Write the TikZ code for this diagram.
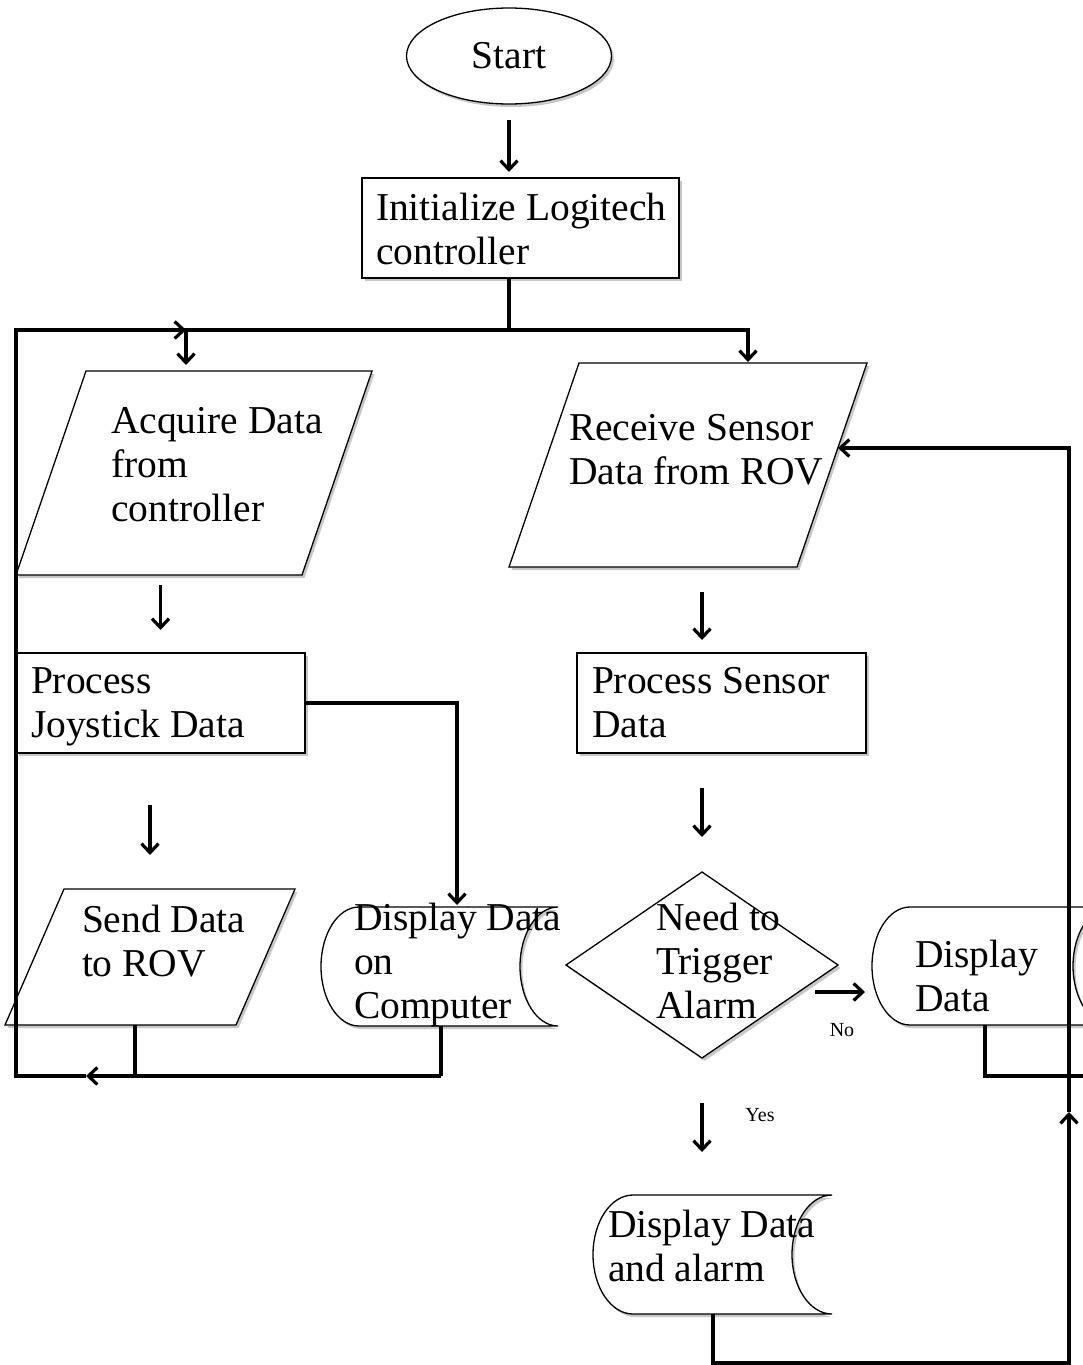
\documentclass[tikz,border=0pt]{standalone}
\usepackage{fontspec}
\setmainfont{Liberation Serif}
\usetikzlibrary{shapes.geometric, arrows.meta, calc, shadows, backgrounds}
\newcommand\placetext[3]{\makebox[0pt][l]{\hspace*{#1}\raisebox{#2}[0pt][0pt]{\begin{tabular}[t]{@{}l@{}}#3\end{tabular}}}}
\begin{document}
\begin{tikzpicture}[x=1pt, y=-1pt,
  bigfont/.style={font=\fontsize{39.5}{44}\selectfont},
  shadowed/.style={drop shadow={shadow xshift=2.5pt, shadow yshift=-3pt, opacity=0.22, fill=black}},
  shapebox/.style={draw=black, line width=1.3pt, fill=white, inner sep=0pt, outer sep=0pt, bigfont, shadowed},
  procbox/.style={shapebox, rectangle},
  plainbox/.style={rectangle, inner sep=0pt, outer sep=0pt, bigfont},
  outline/.style={draw=black, line width=1.3pt, fill=white, shadowed},
  conn/.style={line width=3.5pt},
  arr/.style={conn, -{Straight Barb[length=9pt,width=17pt,line width=3.2pt]}},
  lbl/.style={font=\fontsize{20}{24}\selectfont, inner sep=0pt}
]
\useasboundingbox (0,0) rectangle (1082,1365);

% ---------- shapes ----------
\node[shapebox, ellipse, minimum width=205pt, minimum height=96pt] (start) at (509,56) {Start};
\node[procbox, minimum width=317pt, minimum height=100pt] (init) at (520.5,228)
  {\placetext{-144.5pt}{8pt}{Initialize Logitech\\controller}};
\node[plainbox, minimum width=356pt, minimum height=204pt] (acq) at (194,473)
  {\placetext{-83pt}{40pt}{Acquire Data\\from\\controller}};
\node[plainbox, minimum width=358pt, minimum height=204pt] (recv) at (688,465)
  {\placetext{-119pt}{25pt}{Receive Sensor\\Data from ROV}};
\node[procbox, minimum width=289pt, minimum height=100pt] (pj) at (160.5,703)
  {\placetext{-129.5pt}{10pt}{Process\\Joystick Data}};
\node[procbox, minimum width=289pt, minimum height=100pt] (ps) at (721.5,703)
  {\placetext{-129.5pt}{10pt}{Process Sensor\\Data}};
\node[plainbox, minimum width=290pt, minimum height=136pt] (send) at (150,957)
  {\placetext{-68pt}{25pt}{Send Data\\to ROV}};
\node[plainbox, minimum width=237pt, minimum height=119pt] (comp) at (439.5,966.5)
  {\placetext{-85.5pt}{36.5pt}{Display Data\\on\\Computer}};
\node[shapebox, diamond, minimum width=272pt, minimum height=186pt] (dec) at (702,965)
  {\placetext{-46pt}{35pt}{Need to\\Trigger\\Alarm}};
\node[plainbox, minimum width=239pt, minimum height=118pt] (disp) at (991.5,966)
  {\placetext{-76.5pt}{-1pt}{Display\\Data}};
\node[plainbox, minimum width=239pt, minimum height=119pt] (alarm) at (712.5,1254.5)
  {\placetext{-104.5pt}{17.5pt}{Display Data\\and alarm}};

\begin{pgfonlayer}{background}
  \fill[white] (0,0) rectangle (1082,1365);
  % parallelograms (input / output)
  \path[outline] ($(acq.north west)+(70,0)$) -- (acq.north east)
    -- ($(acq.south east)+(-70,0)$) -- (acq.south west) -- cycle;
  \path[outline] ($(recv.north west)+(70,0)$) -- (recv.north east)
    -- ($(recv.south east)+(-70,0)$) -- (recv.south west) -- cycle;
  \path[outline] ($(send.north west)+(59,0)$) -- (send.north east)
    -- ($(send.south east)+(-59,0)$) -- (send.south west) -- cycle;
  % stored-data shapes
  \path[outline] ($(comp.north west)+(38,0)$) -- (comp.north east)
    arc[start angle=90, end angle=270, x radius=38pt, y radius=59.5pt]
    -- ($(comp.south west)+(38,0)$)
    arc[start angle=270, end angle=90, x radius=38pt, y radius=59.5pt] -- cycle;
  \path[outline] ($(disp.north west)+(38,0)$) -- (disp.north east)
    arc[start angle=90, end angle=270, x radius=38pt, y radius=59pt]
    -- ($(disp.south west)+(38,0)$)
    arc[start angle=270, end angle=90, x radius=38pt, y radius=59pt] -- cycle;
  \path[outline] ($(alarm.north west)+(40,0)$) -- (alarm.north east)
    arc[start angle=90, end angle=270, x radius=40pt, y radius=59.5pt]
    -- ($(alarm.south west)+(40,0)$)
    arc[start angle=270, end angle=90, x radius=40pt, y radius=59.5pt] -- cycle;
\end{pgfonlayer}

% ---------- junction points ----------
\coordinate (busM) at (509,330);
\coordinate (busA) at (186,330);
\coordinate (busR) at (748,330);
\coordinate (cL1) at (16,1076);
\coordinate (cL2) at (16,330);
\coordinate (j1) at (135,1076);
\coordinate (j2) at (441,1076);
\coordinate (jA) at (86,1076);
\coordinate (k) at (457,703);
\coordinate (d1) at (985,1076);
\coordinate (d2) at (1095,1076);
\coordinate (a1) at (713,1363);
\coordinate (r1) at (1069,1363);
\coordinate (r2) at (1069,1112);
\coordinate (r3) at (1069,448);
\coordinate (rin) at (838,448);

% ---------- connectors ----------
\draw[arr, shorten <=16pt, shorten >=6pt] (start.south) -- (start.south |- init.north);
\draw[conn] (init.south -| busM) -- (busM);
\draw[arr, shorten >=6pt] (busM) -| (busA |- acq.north);
\draw[arr, shorten >=1pt] (busM) -| (busR |- recv.north);

\draw[arr, shorten <=10pt, shorten >=23pt] (pj.north |- acq.south) -- (pj.north);
\draw[arr, shorten <=52pt, shorten >=34pt] (send.north |- pj.south) -- (send.north);
\draw[arr, shorten >=2pt] (pj.east) -| (k |- comp.north);

\draw[conn] (send.south -| j1) -- (j1);
\draw[conn] (comp.south -| j2) -- (j2);
\draw[arr] (j2) -- (jA);
\draw[arr] (jA) -- (cL1) -- (cL2) -- (busA);

\draw[arr, shorten <=25pt, shorten >=13pt] (dec.north |- recv.south) -- (dec.north |- ps.north);
\draw[arr, shorten <=35pt, shorten >=35pt] (dec.north |- ps.south) -- (dec.north);
\draw[arr] ($(dec.east)+(-23,27)$) -- ($(disp.west)+(-7,26)$);
\node[lbl] (no) at (842,1030) {No};
\draw[arr, shorten <=45pt, shorten >=43pt] (dec.south) -- (dec.south |- alarm.north);
\node[lbl] (yes) at (760,1115) {Yes};

\draw[arr] (alarm.south -| a1) -- (a1) -- (r1) -- (r2);
\draw[arr] (r2) -- (r3) -- (rin);
\draw[conn] (disp.south -| d1) -- (d1) -- (d2);
\end{tikzpicture}
\end{document}
